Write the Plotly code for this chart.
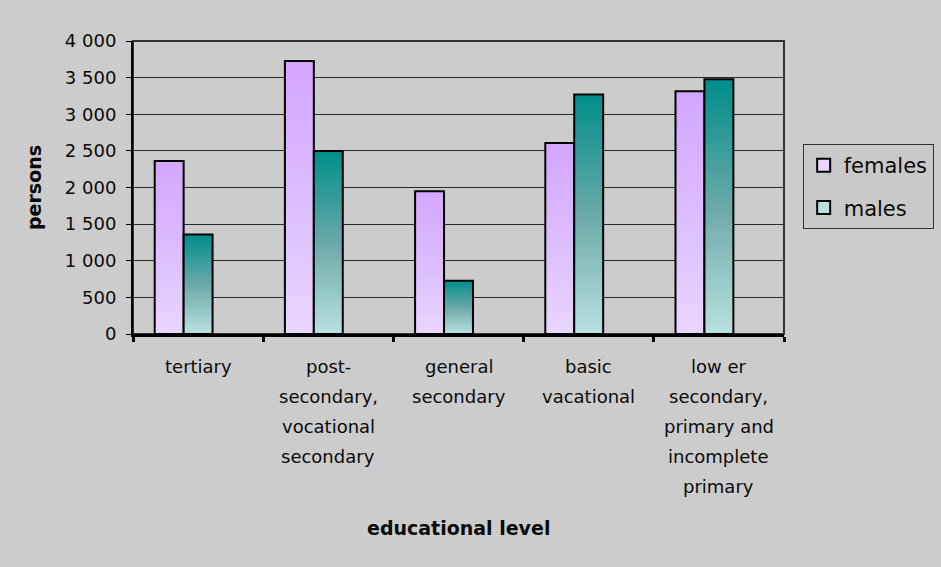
import plotly.graph_objects as go

# Educational level categories, each split over several label lines
categories = [
    ["tertiary"],
    ["post-", "secondary,", "vocational", "secondary"],
    ["general", "secondary"],
    ["basic", "vacational"],
    ["low er", "secondary,", "primary and", "incomplete", "primary"],
]
females = [2363, 3727, 1950, 2609, 3314]
males = [1360, 2500, 727, 3269, 3477]
y_ticks = [0, 500, 1000, 1500, 2000, 2500, 3000, 3500, 4000]

series = [
    ("females", females, ["#e9d6ff", "#dcbcff", "#d3a6ff"]),
    ("males", males, ["#b9e1e0", "#6aa9a8", "#008e8b"]),
]

# Excel-style clustered layout: three series slots per category, gap width 150 %
N_SLOTS = 3
GAP_WIDTH = 1.5
bar_w = 1.0 / (N_SLOTS + GAP_WIDTH)
group_start = GAP_WIDTH * bar_w / 2

FONT = "DejaVu Sans"
BG = "#cccccc"
INK = "#0a0a0a"

fig = go.Figure()

for s, (name, values, cols) in enumerate(series):
    for i, v in enumerate(values):
        x0 = i + group_start + s * bar_w
        x1 = x0 + bar_w
        fig.add_trace(go.Scatter(
            x=[x0, x0, x1, x1, x0],
            y=[0, v, v, 0, 0],
            mode="lines",
            fill="toself",
            fillgradient=dict(
                type="vertical",
                colorscale=[[0, cols[0]], [0.5, cols[1]], [1, cols[2]]],
            ),
            line=dict(color="black", width=2),
            legendgroup=name,
            showlegend=False,
            hoverinfo="skip",
        ))
    # legend entry: small bordered square
    fig.add_trace(go.Scatter(
        x=[None], y=[None],
        mode="markers",
        name=name,
        legendgroup=name,
        marker=dict(symbol="square", size=13, color=cols[0],
                    line=dict(color="black", width=2)),
    ))

# Category labels below the axis, one line at a time
annotations = []
for i, lines in enumerate(categories):
    for j, txt in enumerate(lines):
        annotations.append(dict(
            x=i + 0.5, xref="x", y=0, yref="y",
            text=txt, showarrow=False,
            xanchor="center", yanchor="middle",
            yshift=-32 - 30 * j,
            font=dict(family=FONT, size=18, color=INK),
        ))
annotations.append(dict(
    x=0.5, xref="paper", y=-0.662, yref="paper",
    text="<b>educational level</b>", showarrow=False,
    xanchor="center", yanchor="middle",
    font=dict(family=FONT, size=19, color=INK),
))

fig.update_layout(
    width=941, height=567,
    margin=dict(l=133, r=157, t=41, b=233, autoexpand=False),
    paper_bgcolor=BG, plot_bgcolor=BG,
    separators=", ",
    font=dict(family=FONT, size=18, color=INK),
    annotations=annotations,
    showlegend=True,
    legend=dict(
        xref="container", yref="container",
        x=0.853, xanchor="left", y=0.746, yanchor="top",
        bgcolor="#c9c9c9", bordercolor="#333333", borderwidth=1,
        font=dict(family=FONT, size=21, color=INK),
        traceorder="grouped", tracegroupgap=12,
    ),
    shapes=[dict(
        type="rect", xref="paper", yref="paper", x0=0, x1=1, y0=0, y1=1,
        line=dict(color="#333333", width=2), layer="below",
    )],
    xaxis=dict(
        range=[0, len(categories)],
        tickvals=list(range(len(categories) + 1)),
        showticklabels=False,
        ticks="outside", ticklen=5, tickwidth=3, tickcolor="black",
        showgrid=False, zeroline=False,
        showline=True, linecolor="black", linewidth=3,
        fixedrange=True,
    ),
    yaxis=dict(
        range=[0, 4000],
        tickvals=y_ticks,
        tickformat=",d",
        ticks="outside", ticklen=5, tickwidth=1, tickcolor="black",
        ticklabelstandoff=6,
        showgrid=True, gridcolor="#2a2a2a", gridwidth=1,
        zeroline=False,
        showline=True, linecolor="black", linewidth=2,
        title=dict(text="<b>persons</b>", standoff=18,
                   font=dict(family=FONT, size=19, color=INK)),
        fixedrange=True,
    ),
)

fig.write_html("out.html")
